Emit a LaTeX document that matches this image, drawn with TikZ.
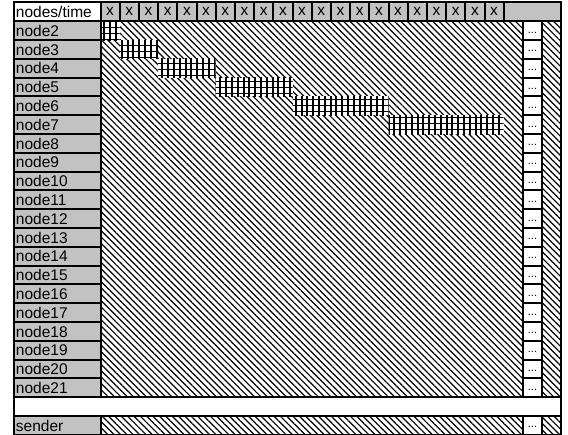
\documentclass[tikz,border=0pt]{standalone}
\usepackage{fontspec}
\setmainfont{Liberation Sans}
\usetikzlibrary{positioning,patterns.meta,backgrounds}
\definecolor{hd}{gray}{0.76}
\tikzset{
  cell/.style={draw, line width=2pt, minimum width=19.2pt, minimum height=18.8pt, inner sep=0pt, outer sep=0pt},
  lab/.style={cell, fill=hd, text width=82.5pt, inner xsep=2pt, align=left},
  dots/.style={cell, fill=white, font=\fontsize{11}{11}\selectfont},
  hatch/.style={draw, line width=2pt, pattern={Lines[angle=-45, distance=4.5pt, line width=1.2pt]}},
  vbars/.style={pattern={Lines[angle=90, distance=5.8pt, line width=2pt]}},
  hbars/.style={pattern={Lines[angle=0, distance=6pt, line width=0.9pt]}}}

\begin{document}
\begin{tikzpicture}[x=1pt, y=-1pt, node distance=0pt, font=\fontsize{15.5}{17}\selectfont]
\useasboundingbox (0,0) rectangle (568,435);
% header
\node[lab, fill=white, anchor=north west, alias=n1, alias=h0] (hl) at (14,2.5) {nodes/time};
\foreach \i [remember=\i as \j (initially 0)] in {1,...,21}
  \node[cell, fill=hd, right=of h\j] (h\i) {x};
\node[cell, fill=hd, minimum width=57.6pt, right=of h21] (hr) {};
\coordinate (dl) at ([xshift=19.2pt]h21.east);
% rows
\foreach \r [remember=\r as \p (initially 1)] in {2,...,21} {
  \node[lab, below=of n\p] (n\r) {node\r};
  \node[dots, anchor=west] (d\r) at (dl |- n\r) {\raisebox{-5pt}{...}};
}
\node[cell, fill=white, minimum width=547.3pt, anchor=north west] (gap) at (n21.south west) {};
\node[lab, anchor=north west] (snd) at (gap.south west) {sender};
\node[dots, anchor=west] (ds) at (dl |- snd) {\raisebox{-5pt}{...}};
\begin{scope}[on background layer]
\draw[hatch] (h1.south west) rectangle (d21.south west);
\draw[hatch] (hr.south east) rectangle (d21.south east);
\draw[hatch] (snd.north east) rectangle (ds.south west);
\draw[hatch] (ds.north east) rectangle (snd.south -| hr.east);
% busy blocks
\foreach \r/\a/\b in {2/1/1, 3/2/3, 4/4/6, 5/7/10, 6/11/15, 7/16/21} {
  \fill[white] (h\a.west |- n\r.north) rectangle (h\b.east |- n\r.south);
  \fill[vbars] (h\a.west |- n\r.north) rectangle (h\b.east |- n\r.south);
  \fill[hbars] (h\a.west |- n\r.north) rectangle (h\b.east |- n\r.south);
}
\end{scope}
\end{tikzpicture}
\end{document}
